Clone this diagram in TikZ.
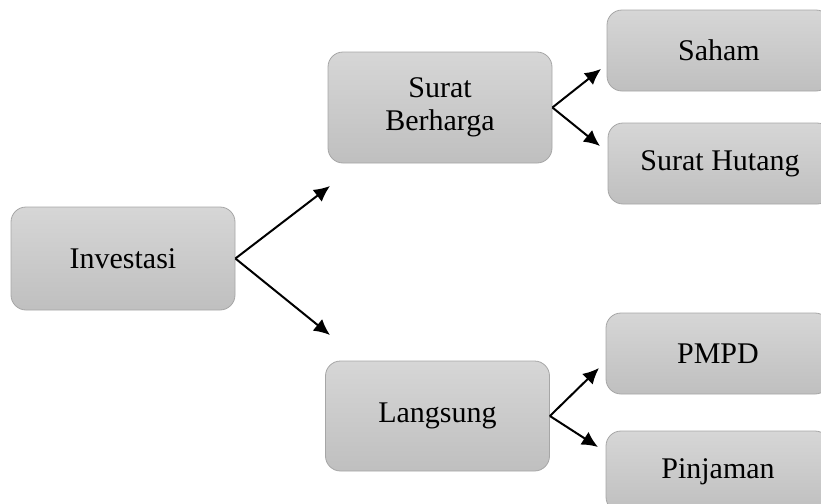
\documentclass[tikz,border=0pt]{standalone}
\usepackage{fontspec}
\setmainfont{Liberation Serif}
\usepackage{tikz}
\usetikzlibrary{arrows.meta}

\tikzset{
    box/.style={rounded corners=7.5pt, draw=gray!70, top color=gray!32, bottom color=gray!50,
        minimum width=112pt, inner sep=0pt, align=center,
        font=\fontsize{15}{16.5}\selectfont},
    link/.style={line width=1pt, -{Latex[length=8pt,width=7.5pt]}}
}

\begin{document}
\begin{tikzpicture}[x=0.5pt, y=-0.5pt]
    \clip (0,0) rectangle (821,504);

    % Root
    \node[box, minimum height=51.5pt] (inv) at (123,258.5) {Investasi};

    % Middle level
    \node[box, minimum height=55.5pt] (sb) at (440,107.5) {Surat\\Berharga};
    \node[box, minimum height=55pt] (lang) at (437.5,416) {Langsung};

    % Leaves
    \node[box, minimum height=40.5pt] (saham) at (719,50.5) {Saham};
    \node[box, minimum height=40.5pt] (hutang) at (720,163.5) {Surat Hutang};
    \node[box, minimum height=40.5pt] (pmpd) at (718,353.5) {PMPD};
    \node[box, minimum height=40.5pt] (pinj) at (718,471.5) {Pinjaman};

    % Arrow ends
    \coordinate (invup) at (330,186);
    \coordinate (invdown) at (330,335);
    \coordinate (sbup) at (601,69);
    \coordinate (sbdown) at (600,146);
    \coordinate (langup) at (599,368);
    \coordinate (langdown) at (598,447);

    % Arrows
    \draw[link] (inv.east) -- (invup);
    \draw[link] (inv.east) -- (invdown);
    \draw[link] (sb.east) -- (sbup);
    \draw[link] (sb.east) -- (sbdown);
    \draw[link] (lang.east) -- (langup);
    \draw[link] (lang.east) -- (langdown);
\end{tikzpicture}
\end{document}
